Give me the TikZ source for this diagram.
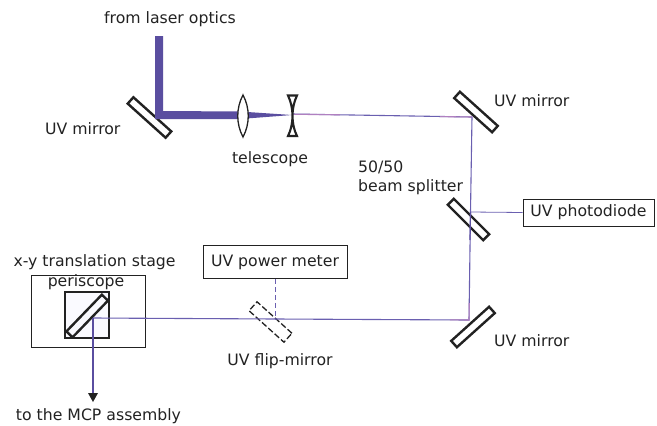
\documentclass[tikz,border=0pt]{standalone}
\usepackage{fontspec}
\setmainfont{DejaVu Sans}
\definecolor{beam}{HTML}{5A4EA0}
\definecolor{beamthin}{HTML}{6A5FB0}
\definecolor{pinkb}{HTML}{B080C0}
\definecolor{ink}{HTML}{222222}
\tikzset{
 lbl/.style={inner sep=0pt,text=ink,font=\fontsize{15.7}{19}\selectfont,align=left},
 mirror/.style={draw=ink,line width=2.4pt,rectangle,minimum width=51pt,minimum height=8.5pt,inner sep=0pt},
 flip/.style={draw=ink,line width=1.3pt,dash pattern=on 6pt off 2.5pt,rectangle,minimum width=47pt,minimum height=12pt,inner sep=0pt},
 boxn/.style={draw=ink,line width=.9pt,inner sep=0pt,text=ink,font=\fontsize{15.7}{19}\selectfont},
 thinb/.style={draw=beamthin,line width=1.1pt},
 tint/.style={draw=pinkb,line width=1.1pt},
}
\begin{document}
\begin{tikzpicture}[x=1pt,y=-1pt]
\useasboundingbox (0,0) rectangle (657,426);
% stage and periscope boxes
\node[boxn,minimum width=114pt,minimum height=72pt] (stage) at (88,311) {};
\node[boxn,fill=blue!2,line width=1.1pt,minimum width=44pt,minimum height=46pt] (peribox) at (87,315) {};
% beam coordinates
\coordinate (laser) at (159,36);
\coordinate (m1) at (159,115);
\coordinate (lens) at (243,115);
\coordinate (conc) at (292,114);
\coordinate (m2) at (472,117);
\coordinate (bs) at (470.5,212);
\coordinate (m3) at (469,320);
\coordinate (fm) at (275.5,319);
\coordinate (pm) at (93,318);
\coordinate (out) at (93,402);
% mirrors behind the beams
\node[mirror,rotate=-42] (mir1) at (149.5,117.5) {};
\node[mirror,rotate=-42] (mir2) at (476,112) {};
\node[mirror,rotate=-45,minimum width=50pt] (split) at (468.5,219.5) {};
\node[mirror,rotate=42] (mir3) at (473,327) {};
\node[mirror,rotate=46,minimum width=51pt] (peri) at (87.2,316) {};
\node[flip,rotate=-42] (flipm) at (270.5,322) {};
% thick beam
\fill[beam] (155,36) -- (163,36) -- (163,111) -- (240,111.5) -- (292,115) -- (240,119) -- (155,119) -- cycle;
% thin beam
\draw[thinb] (conc) -- (m2) -- (bs) -- (m3) -- (fm) -- (pm);
\draw[tint] (294,114.3) -- (340,114.8);
\draw[tint] (440,116.6) -- (m2);
\draw[tint] (450,319.8) -- (m3) -- (469.3,303);
\draw[beam,line width=1.2pt] (bs) -- (470,240);
\draw[line width=1.4pt,beam] (pm) -- (93,394);
\fill[ink] (88,393) -- (98,393) -- (out) -- cycle;
% telescope
\draw[ink,line width=1.3pt,fill=white] (243,95) .. controls (236,108) and (236,124) .. (243,137) .. controls (250,124) and (250,108) .. (243,95) -- cycle;
\draw[ink,line width=2.1pt] (288,95.5) -- (297,95.5) .. controls (291,108) and (291,124) .. (297,136) -- (288,136) .. controls (294,124) and (294,108) .. (288,95.5) -- cycle;
% labelled boxes
\node[boxn,minimum width=144pt,minimum height=33pt] (meter) at (275,262) {UV power meter};
\node[boxn,minimum width=131pt,minimum height=27pt] (diode) at (588.5,212.5) {UV photodiode};
\draw[thinb,line width=.8pt] (bs) -- (diode.west);
\draw[draw=beamthin,line width=1.1pt,dash pattern=on 5pt off 3pt] (meter.south -| fm) -- (fm);
% labels
\node[lbl,anchor=center] (t1) at (170,19.5) {from laser optics};
\node[lbl,anchor=west] (t2) at (45,128.5) {UV mirror};
\node[lbl,anchor=center] (t3) at (270,159.5) {telescope};
\node[lbl,anchor=west] (t4) at (494,100.5) {UV mirror};
\node[lbl,anchor=west] (t5) at (358,178) {50/50\\beam splitter};
\node[lbl,anchor=west] (t6) at (494,340.5) {UV mirror};
\node[lbl,anchor=center] (t7) at (94.5,262.5) {x-y translation stage};
\node[lbl,anchor=center] (t8) at (86,282.5) {periscope};
\node[lbl,anchor=center] (t9) at (280,361.5) {UV flip-mirror};
\node[lbl,anchor=center] (t10) at (98.5,416.5) {to the MCP assembly};
\end{tikzpicture}
\end{document}
